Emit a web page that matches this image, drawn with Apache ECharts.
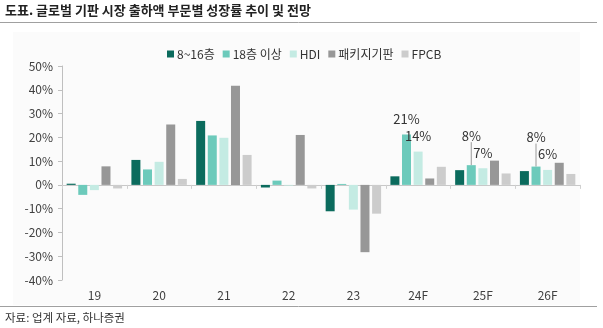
<!DOCTYPE html>
<html>
<head>
<meta charset="utf-8">
<script src="https://cdn.jsdelivr.net/npm/echarts@6/dist/echarts.min.js"></script>
<style>
html,body{margin:0;padding:0;background:#fff;}
#c{width:603px;height:328px;}
</style>
</head>
<body>
<div id="c"></div>
<script>
const categories = ['19','20','21','22','23','24F','25F','26F'];
const seriesNames = ['8~16층','18층 이상','HDI','패키지기판','FPCB'];
const s8to16 = [0.5, 10.5, 26.9, -1.1, -11.1, 3.6, 6.2, 5.8];
const s18plus = [-4.2, 6.5, 20.8, 1.8, 0.4, 21.2, 8.3, 7.7];
const sHDI = [-2.2, 9.7, 19.8, -0.3, -10.4, 14.0, 7.0, 6.3];
const sPackage = [7.8, 25.4, 41.7, 21.0, -28.3, 2.7, 10.2, 9.3];
const sFPCB = [-1.5, 2.5, 12.6, -1.5, -12.1, 7.6, 4.8, 4.6];
const yTicks = [-40, -30, -20, -10, 0, 10, 20, 30, 40, 50];

const colors = ['#0b6b5d', '#6ccabb', '#c4ebe3', '#979797', '#cccccc'];
const allData = [s8to16, s18plus, sHDI, sPackage, sFPCB];
const labelIdx = {1: [5, 6, 7], 2: [5, 6, 7]};
const leader = {1: [6, 7]};
const FONT = '"Noto Sans CJK KR", "Noto Sans", sans-serif';

const chart = echarts.init(document.getElementById('c'), null, {renderer: 'canvas'});

const series = allData.map((arr, si) => {
  const idx = labelIdx[si] || [];
  const ld = leader[si] || [];
  return {
    name: seriesNames[si],
    type: 'bar',
    xAxisIndex: 0,
    barWidth: 9,
    barGap: '29%',
    itemStyle: {color: colors[si]},
    data: arr.map((v, i) => {
      if (idx.indexOf(i) >= 0) {
        return {
          value: v,
          label: {
            show: true,
            position: 'top',
            distance: 9,
            offset: (si === 2 && i === 5) ? [6, -2] : [0, 0],
            formatter: Math.round(v) + '%',
            fontSize: 13,
            color: '#333',
            fontFamily: FONT
          },
          labelLine: ld.indexOf(i) >= 0 ? {show: true, lineStyle: {color: '#999', width: 1}} : {show: false}
        };
      }
      return v;
    }),
    labelLayout: function (p) {
      if (si === 1 && (p.dataIndex === 6 || p.dataIndex === 7)) return {dy: -14};
      return {};
    },
    animation: false
  };
});

chart.setOption({
  animation: false,
  textStyle: {fontFamily: FONT},
  graphic: [
    {type: 'rect', left: 13, top: 32, shape: {width: 567, height: 273}, style: {fill: '#fbfbfb'}, z: -10, silent: true},
    {type: 'text', left: 5, top: 4, style: {text: '도표. 글로벌 기판 시장 출하액 부문별 성장률 추이 및 전망', font: 'bold 13px ' + FONT, fill: '#222'}},
    {type: 'line', shape: {x1: 0, y1: 22.5, x2: 597, y2: 22.5}, style: {stroke: '#a0a0a0', lineWidth: 1}},
    {type: 'line', shape: {x1: 0, y1: 306.5, x2: 597, y2: 306.5}, style: {stroke: '#a0a0a0', lineWidth: 1}},
    {type: 'text', left: 5, top: 312, style: {text: '자료: 업계 자료, 하나증권', font: '11.5px ' + FONT, fill: '#333'}}
  ],
  legend: {
    left: 162,
    top: 43,
    itemWidth: 7,
    itemHeight: 7,
    itemGap: 8,
    icon: 'rect',
    textStyle: {fontSize: 12, color: '#333', fontFamily: FONT, padding: [0, 0, 0, -2]},
    data: seriesNames
  },
  grid: {left: 62, right: 23, top: 66, bottom: 48, containLabel: false},
  xAxis: [
    {
      type: 'category',
      data: categories,
      axisLine: {onZero: true, lineStyle: {color: '#c8c8c8'}},
      axisTick: {show: true, length: 4, lineStyle: {color: '#d0d0d0'}},
      axisLabel: {show: false}
    },
    {
      type: 'category',
      data: categories,
      position: 'bottom',
      axisLine: {show: false, onZero: false},
      axisTick: {show: false},
      axisLabel: {show: true, margin: 9, fontSize: 12, color: '#404040', fontFamily: FONT}
    }
  ],
  yAxis: {
    type: 'value',
    min: yTicks[0],
    max: yTicks[yTicks.length - 1],
    interval: 10,
    splitLine: {show: false},
    axisLine: {show: true, lineStyle: {color: '#bfbfbf'}},
    axisTick: {show: true, length: 4, lineStyle: {color: '#bfbfbf'}},
    axisLabel: {margin: 9, fontSize: 12, color: '#404040', fontFamily: FONT, formatter: v => v + '%'}
  },
  series: series
});
</script>
</body>
</html>
